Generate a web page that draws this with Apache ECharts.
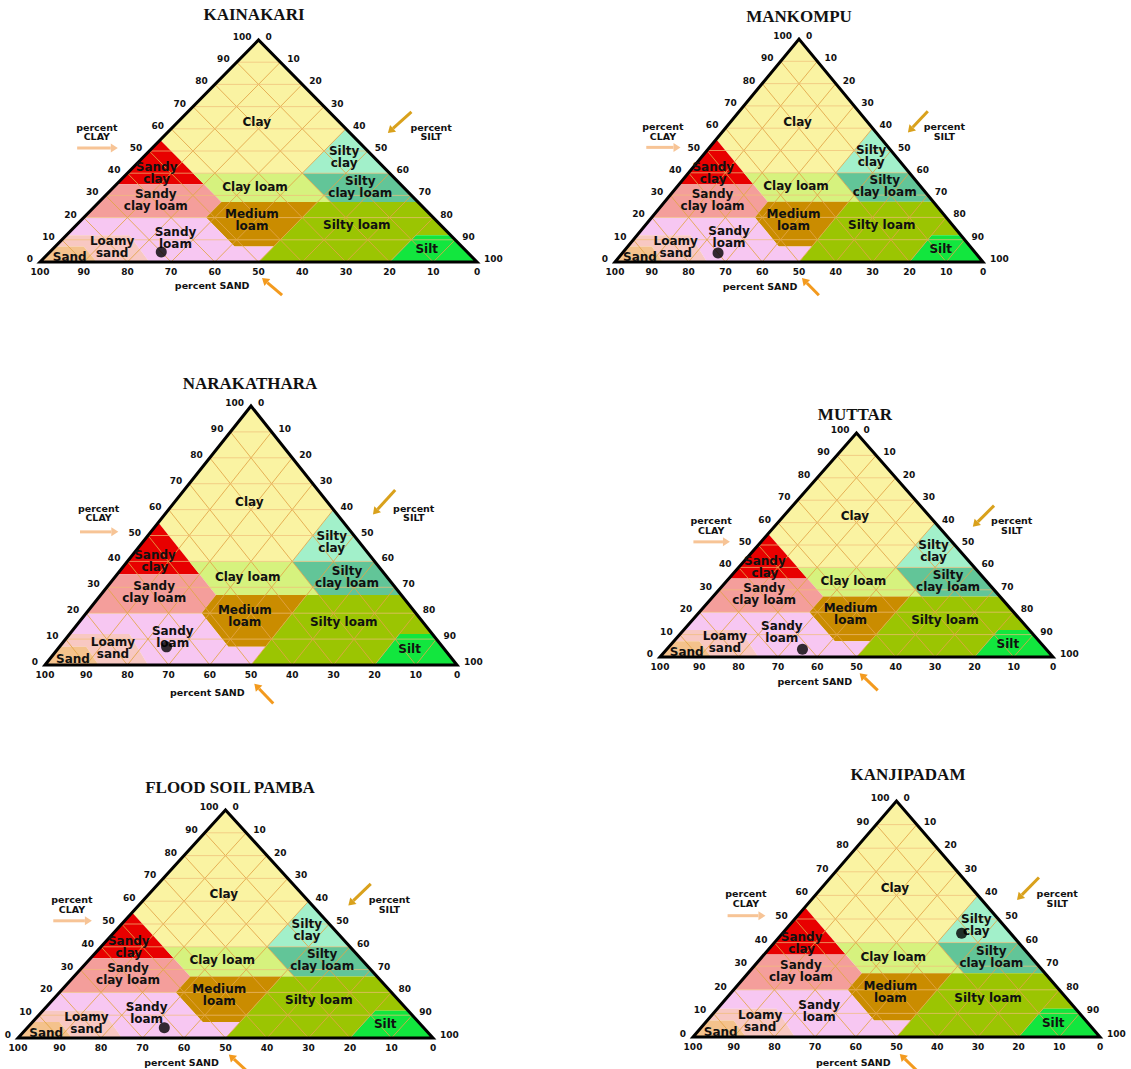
<!DOCTYPE html>
<html>
<head>
  <meta charset="utf-8">
  <title>Soil texture triangles</title>
  <script src="https://cdn.jsdelivr.net/npm/echarts@6/dist/echarts.min.js"></script>
</head>
<body style="margin:0;background:#fff">
  <div id="main" style="width:1131px;height:1069px"></div>
  <script type="text/javascript">
    // sample sites and their texture (percent)
    var siteNames = ['KAINAKARI', 'MANKOMPU', 'NARAKATHARA', 'MUTTAR', 'FLOOD SOIL PAMBA', 'KANJIPADAM'];
    var sandPct = [70, 70, 67, 62, 62.5, 12];
    var siltPct = [25.5, 26, 26, 34.5, 33, 44];
    var clayPct = [4.5, 4, 7, 3.5, 4.5, 44];

    var tickValues = [0, 10, 20, 30, 40, 50, 60, 70, 80, 90, 100];

    // texture classes, corners given as [sand, clay]
    var classNames = ['Clay', 'Sandy clay', 'Silty clay', 'Clay loam', 'Silty clay loam', 'Sandy clay loam',
      'Medium loam', 'Silty loam', 'Silt', 'Sandy loam', 'Loamy sand', 'Sand'];
    var classLabels = ['Clay', 'Sandy\nclay', 'Silty\nclay', 'Clay loam', 'Silty\nclay loam', 'Sandy\nclay loam',
      'Medium\nloam', 'Silty loam', 'Silt', 'Sandy\nloam', 'Loamy\nsand', 'Sand'];
    var classCorners = [
      [[45, 55], [0, 100], [0, 60], [20, 40], [45, 40]],
      [[45, 55], [45, 35], [65, 35]],
      [[0, 60], [0, 40], [20, 40]],
      [[45, 40], [20, 40], [20, 27], [45, 27]],
      [[20, 40], [0, 40], [0, 27], [20, 27]],
      [[65, 35], [45, 35], [45, 27], [52, 20], [80, 20]],
      [[45, 27], [23, 27], [43, 7], [52, 7], [52, 20]],
      [[23, 27], [0, 27], [0, 12], [8, 12], [20, 0], [50, 0], [43, 7]],
      [[20, 0], [8, 12], [0, 12], [0, 0]],
      [[80, 20], [52, 20], [52, 7], [43, 7], [50, 0], [75, 0], [73.5, 12], [88, 12]],
      [[88, 12], [73.5, 12], [75, 0], [87, 0], [86.5, 7], [93, 7]],
      [[93, 7], [86.5, 7], [87, 0], [100, 0]]
    ];
    var classColors = ['#FAF3A2', '#E80000', '#A2F0CA', '#D6F27E', '#62C598', '#F49E9B',
      '#CA8C00', '#9BC502', '#12E63E', '#F7C7F2', '#F8C8C2', '#F4C28C'];
    // label anchors in plot units [x, y]
    var classLabelAt = [[49.6, 63], [26.7, 40], [69.6, 47.5], [49.2, 34], [73.3, 34], [26.5, 28],
      [48.5, 19], [72.5, 16.5], [88.5, 6], [31, 11], [16.5, 6.6], [6.8, 2.3]];

    // where each triangle sits on the page: left, top, width, height
    var panelBoxes = [
      [40, 40, 437, 222],
      [615, 39, 368, 223],
      [45, 406, 412, 259],
      [660, 433, 393, 224],
      [18, 810, 415, 228],
      [693, 801, 407, 236]
    ];
    var titleAt = [[254, 6], [799, 8], [250, 375], [855, 406], [230, 779], [908, 766]];

    var labelFont = '"DejaVu Sans", "Liberation Sans", sans-serif';

    function toXY(sand, clay) {
      return [100 - sand - clay / 2, clay];
    }

    function arrowShape(p0, p1, color) {
      var dx = p1[0] - p0[0], dy = p1[1] - p0[1];
      var len = Math.sqrt(dx * dx + dy * dy);
      var ux = dx / len, uy = dy / len;
      var hl = 7, hw = 4.5;
      var bx = p1[0] - ux * hl, by = p1[1] - uy * hl;
      return {
        type: 'group',
        children: [
          { type: 'line', shape: { x1: p0[0], y1: p0[1], x2: bx, y2: by }, style: { stroke: color, lineWidth: 3 } },
          { type: 'polygon', shape: { points: [[p1[0], p1[1]], [bx - uy * hw, by + ux * hw], [bx + uy * hw, by - ux * hw]] }, style: { fill: color } }
        ]
      };
    }

    function txt(p, text, size, align) {
      return {
        type: 'text', x: p[0], y: p[1],
        style: {
          text: text, align: align || 'center', verticalAlign: 'middle',
          fontFamily: labelFont, fontWeight: 'bold', fontSize: size, lineHeight: size, fill: '#111'
        }
      };
    }

    var chart = echarts.init(document.getElementById('main'), null, { renderer: 'svg' });

    var grids = [], xAxes = [], yAxes = [], titles = [], series = [];

    panelBoxes.forEach(function (b, i) {
      grids.push({ left: b[0], top: b[1], width: b[2], height: b[3] });
      xAxes.push({ gridIndex: i, type: 'value', min: 0, max: 100, show: false });
      yAxes.push({ gridIndex: i, type: 'value', min: 0, max: 100, show: false });
      titles.push({
        text: siteNames[i], left: titleAt[i][0], top: titleAt[i][1], textAlign: 'center', padding: 0,
        textStyle: { fontFamily: '"Liberation Serif", "DejaVu Serif", serif', fontWeight: 'bold', fontSize: 17, color: '#111' }
      });

      // coloured texture classes
      series.push({
        type: 'custom', xAxisIndex: i, yAxisIndex: i, z: 1, silent: true, clip: false,
        data: classNames.map(function (n, k) { return [k]; }),
        renderItem: function (params, api) {
          var k = api.value(0);
          var pts = classCorners[k].map(function (c) { return api.coord(toXY(c[0], c[1])); });
          return { type: 'polygon', shape: { points: pts }, style: { fill: classColors[k] } };
        }
      });

      // 10 % grid: clay (horizontal), sand and silt (diagonals)
      series.push({
        type: 'custom', xAxisIndex: i, yAxisIndex: i, z: 2, silent: true, clip: false,
        data: tickValues.slice(1, -1).map(function (v) { return [v]; }),
        renderItem: function (params, api) {
          var v = api.value(0);
          var a1 = api.coord([v / 2, v]), a2 = api.coord([100 - v / 2, v]);
          var s1 = api.coord([100 - v, 0]), s2 = api.coord([(100 - v) / 2, 100 - v]);
          var t1 = api.coord([v, 0]), t2 = api.coord([v + (100 - v) / 2, 100 - v]);
          return {
            type: 'group',
            children: [
              { type: 'line', shape: { x1: a1[0], y1: a1[1], x2: a2[0], y2: a2[1] }, style: { stroke: '#EFBE78', lineWidth: 1, opacity: 0.7 } },
              { type: 'line', shape: { x1: s1[0], y1: s1[1], x2: s2[0], y2: s2[1] }, style: { stroke: '#E2A548', lineWidth: 1, opacity: 0.85 } },
              { type: 'line', shape: { x1: t1[0], y1: t1[1], x2: t2[0], y2: t2[1] }, style: { stroke: '#E2A548', lineWidth: 1, opacity: 0.85 } }
            ]
          };
        }
      });

      // triangle outline
      series.push({
        type: 'custom', xAxisIndex: i, yAxisIndex: i, z: 3, silent: true, clip: false,
        data: [[0]],
        renderItem: function (params, api) {
          var pts = [api.coord([0, 0]), api.coord([50, 100]), api.coord([100, 0])];
          return { type: 'polygon', shape: { points: pts }, style: { fill: 'none', stroke: '#000', lineWidth: 3, lineJoin: 'miter' } };
        }
      });

      // class names
      series.push({
        type: 'custom', xAxisIndex: i, yAxisIndex: i, z: 4, silent: true, clip: false,
        data: classLabels.map(function (n, k) { return [k]; }),
        renderItem: function (params, api) {
          var k = api.value(0);
          return txt(api.coord(classLabelAt[k]), classLabels[k], 12);
        }
      });

      // tick labels on the three sides
      series.push({
        type: 'custom', xAxisIndex: i, yAxisIndex: i, z: 4, silent: true, clip: false,
        data: tickValues.map(function (v) { return [v]; }),
        renderItem: function (params, api) {
          var v = api.value(0);
          var c = api.coord([v / 2, v]);
          var t = api.coord([50 + v / 2, 100 - v]);
          var s = api.coord([100 - v, 0]);
          return {
            type: 'group',
            children: [
              txt([c[0] - 7, c[1] - 3], String(v), 9, 'right'),
              txt([t[0] + 7, t[1] - 3], String(v), 9, 'left'),
              txt([s[0], s[1] + 10], String(v), 9, 'center')
            ]
          };
        }
      });

      // axis captions with arrows
      series.push({
        type: 'custom', xAxisIndex: i, yAxisIndex: i, z: 4, silent: true, clip: false,
        data: [[0]],
        renderItem: function (params, api) {
          return {
            type: 'group',
            children: [
              txt(api.coord([13, 58.6]), 'percent\nCLAY', 9.5),
              arrowShape(api.coord([8.5, 51.4]), api.coord([17.8, 51.4]), '#F7C496'),
              txt(api.coord([89.5, 58.6]), 'percent\nSILT', 9.5),
              arrowShape(api.coord([85, 67.6]), api.coord([79.6, 58.1]), '#D9A11C'),
              txt(api.coord([39.4, -10.8]), 'percent SAND', 9.5),
              arrowShape(api.coord([55.4, -14.9]), api.coord([50.8, -7.2]), '#F39A1E')
            ]
          };
        }
      });

      // the sample
      series.push({
        name: siteNames[i], type: 'scatter', xAxisIndex: i, yAxisIndex: i, z: 5,
        symbol: 'circle', symbolSize: 11, itemStyle: { color: '#000' },
        data: [toXY(sandPct[i], clayPct[i]).concat([siltPct[i]])]
      });
    });

    chart.setOption({
      animation: false,
      backgroundColor: '#fff',
      title: titles,
      grid: grids,
      xAxis: xAxes,
      yAxis: yAxes,
      series: series
    });
  </script>
</body>
</html>
